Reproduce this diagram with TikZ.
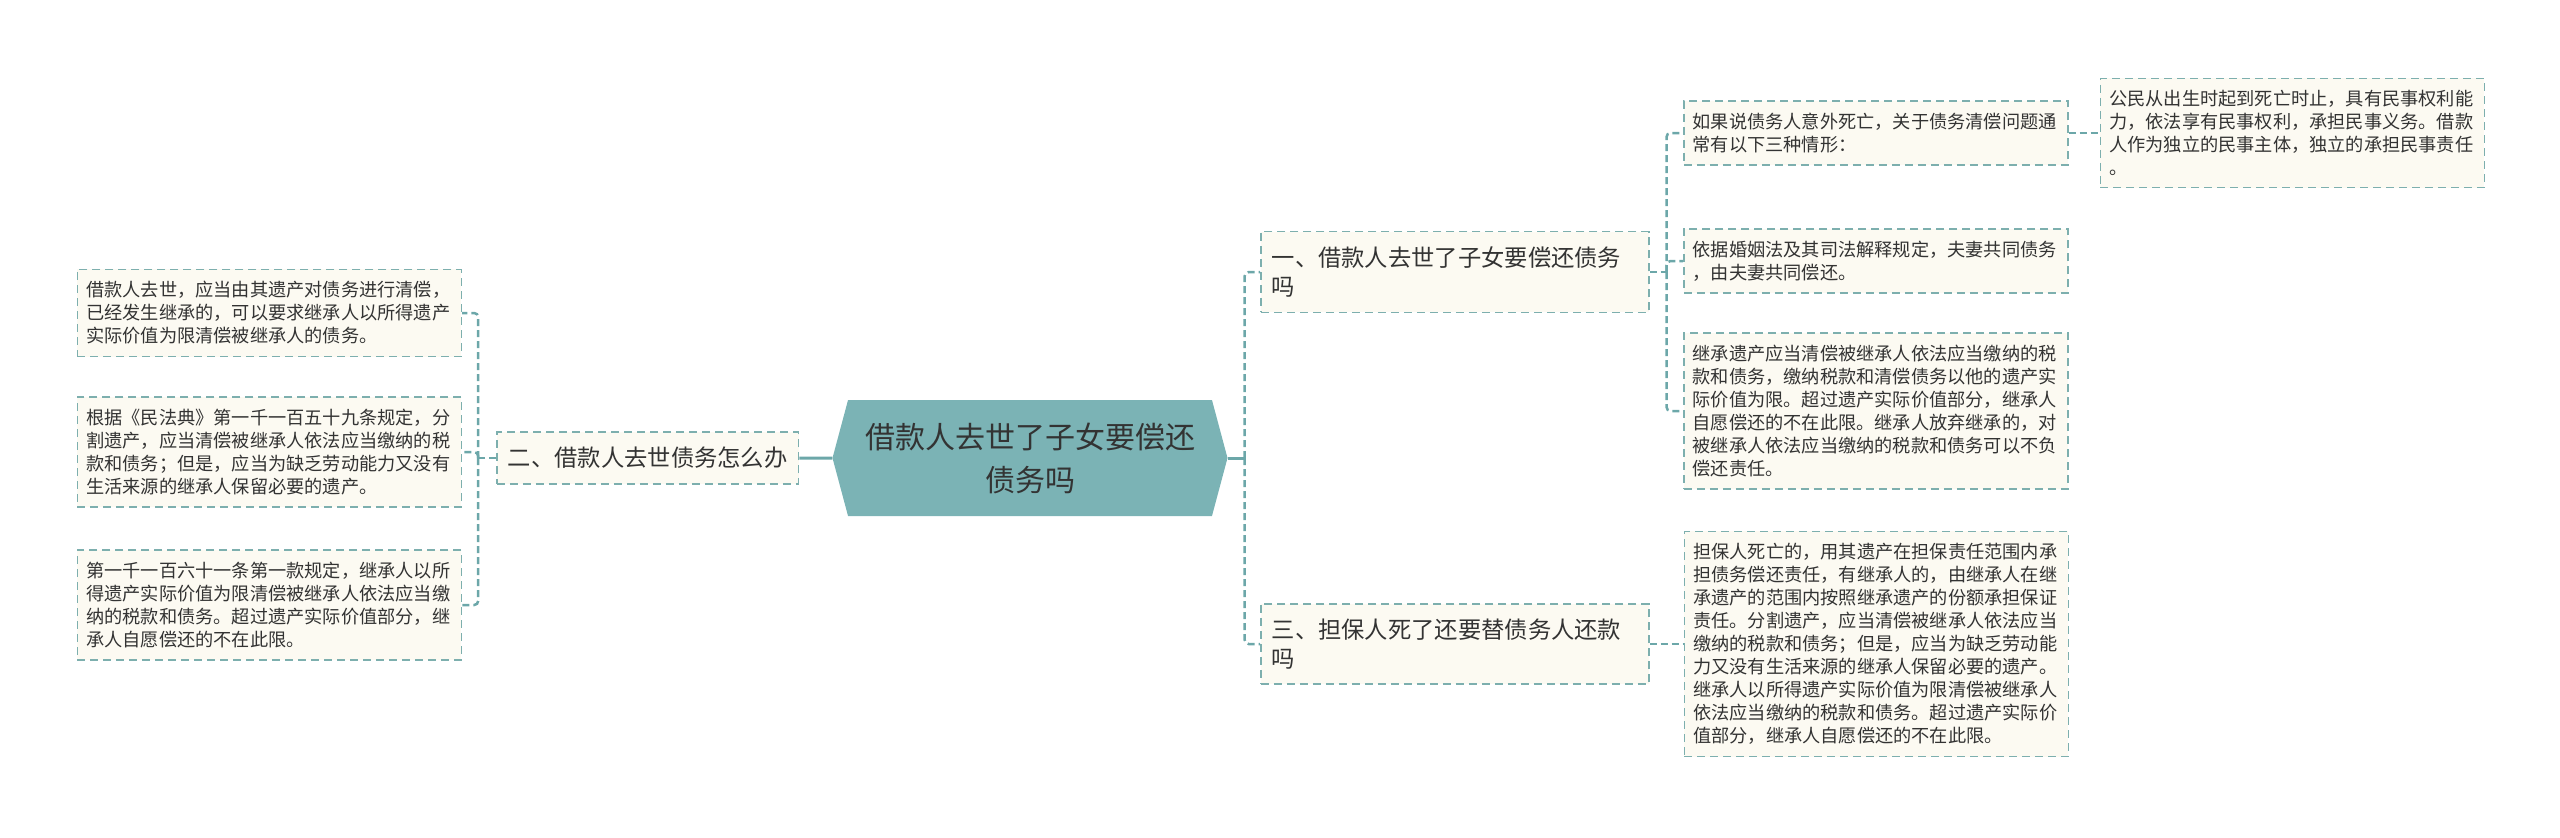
\documentclass[tikz,border=0pt]{standalone}
\usepackage{fontspec}
\newfontfamily\cjk{Noto Sans CJK SC}
\usepackage{xcolor}
\usepackage{tikz}
\usetikzlibrary{positioning,shapes.symbols}
\definecolor{mapteal}{HTML}{7BB3B5}
\definecolor{mapline}{HTML}{6CA7A9}
\definecolor{mapedge}{HTML}{7DAFAE}
\definecolor{mapfill}{HTML}{FCFAF2}
\definecolor{maptext}{HTML}{333333}

\begin{document}
\begin{tikzpicture}[x=1pt, y=-1pt,
  root/.style={signal, signal to=east and west, signal pointer angle=150, fill=mapteal, minimum width=395pt, minimum height=116pt, inner sep=0pt, align=center, text=maptext, font=\cjk\fontsize{30}{43}\selectfont},
  branch/.style={draw=mapedge, fill=mapfill, line width=1.5pt, dash pattern=on 8pt off 5pt, inner xsep=11pt, inner ysep=15pt, align=left, text=maptext, font=\cjk\fontsize{23.3}{29}\selectfont},
  wide/.style={text width=366pt},
  leaf/.style={draw=mapedge, fill=mapfill, line width=1.5pt, dash pattern=on 8pt off 5pt, text width=366pt, inner xsep=9pt, inner ysep=12pt, align=left, text=maptext, font=\cjk\fontsize{18.2}{23}\selectfont},
  link/.style={draw=mapline, line width=2.5pt, dash pattern=on 7pt off 4pt, rounded corners=4pt},
  stem/.style={draw=mapline, line width=3pt},
]
\useasboundingbox (0,0) rectangle (2560,838);

\node[root] (root) at (1030,458) {借款人去世了子女要偿还\\债务吗};
\node[branch, left=33pt of root] (m2) {二、借款人去世债务怎么办};
\node[branch, wide, anchor=west] (m1) at (1260,272) {一、借款人去世了子女要偿还债务\\吗};
\node[branch, wide, anchor=west] (m3) at (1260,644) {三、担保人死了还要替债务人还款\\吗};

\node[leaf, anchor=east] (l1) at (462,313) {借款人去世，应当由其遗产对债务进行清偿，\\已经发生继承的，可以要求继承人以所得遗产\\实际价值为限清偿被继承人的债务。};
\node[leaf, anchor=east] (l2) at (462,452) {根据《民法典》第一千一百五十九条规定，分\\割遗产，应当清偿被继承人依法应当缴纳的税\\款和债务；但是，应当为缺乏劳动能力又没有\\生活来源的继承人保留必要的遗产。};
\node[leaf, anchor=east] (l3) at (462,605) {第一千一百六十一条第一款规定，继承人以所\\得遗产实际价值为限清偿被继承人依法应当缴\\纳的税款和债务。超过遗产实际价值部分，继\\承人自愿偿还的不在此限。};

\node[leaf, anchor=west] (r1) at (1683,133) {如果说债务人意外死亡，关于债务清偿问题通\\常有以下三种情形：};
\node[leaf, right=31pt of r1] (r1a) {公民从出生时起到死亡时止，具有民事权利能\\力，依法享有民事权利，承担民事义务。借款\\人作为独立的民事主体，独立的承担民事责任\\。};
\node[leaf, anchor=west] (r2) at (1683,261) {依据婚姻法及其司法解释规定，夫妻共同债务\\，由夫妻共同偿还。};
\node[leaf, anchor=west] (r3) at (1683,411) {继承遗产应当清偿被继承人依法应当缴纳的税\\款和债务，缴纳税款和清偿债务以他的遗产实\\际价值为限。超过遗产实际价值部分，继承人\\自愿偿还的不在此限。继承人放弃继承的，对\\被继承人依法应当缴纳的税款和债务可以不负\\偿还责任。};
\node[leaf, right=34pt of m3] (r4) {担保人死亡的，用其遗产在担保责任范围内承\\担债务偿还责任，有继承人的，由继承人在继\\承遗产的范围内按照继承遗产的份额承担保证\\责任。分割遗产，应当清偿被继承人依法应当\\缴纳的税款和债务；但是，应当为缺乏劳动能\\力又没有生活来源的继承人保留必要的遗产。\\继承人以所得遗产实际价值为限清偿被继承人\\依法应当缴纳的税款和债务。超过遗产实际价\\值部分，继承人自愿偿还的不在此限。};

\draw[stem] (m2) -- (root);
\draw[stem] (root.east) -- ++(17,0) coordinate (rj);
\draw[link] (rj) |- (m1.west);
\draw[link] (rj) |- (m3.west);

\draw[link] (m2.west) -- ++(-18,0) coordinate (lj);
\draw[link] (lj) |- (l1.east);
\draw[link] (lj) |- (l2.east);
\draw[link] (lj) |- (l3.east);

\draw[link] (m1.east) -- ++(17,0) coordinate (j1);
\draw[link] (j1) |- (r1.west);
\draw[link] (j1) |- (r2.west);
\draw[link] (j1) |- (r3.west);
\draw[link] (r1) -- (r1a);
\draw[link] (m3) -- (r4);

\end{tikzpicture}
\end{document}
